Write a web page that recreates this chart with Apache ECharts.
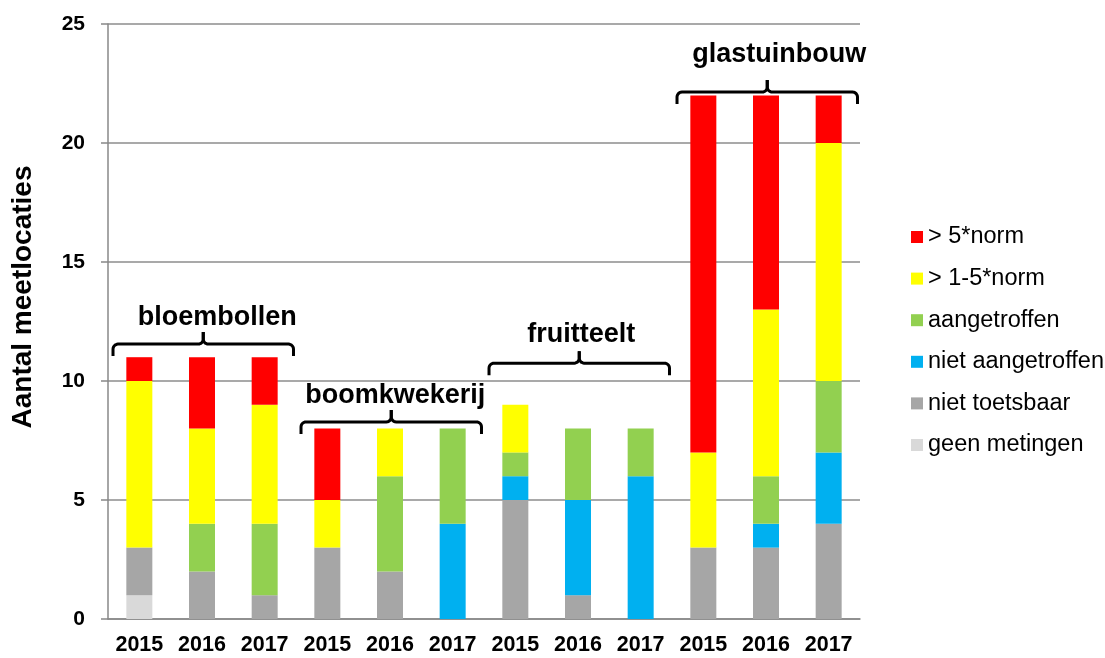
<!DOCTYPE html>
<html>
<head>
<meta charset="utf-8">
<script src="https://cdn.jsdelivr.net/npm/echarts@6/dist/echarts.min.js"></script>
<style>
  html, body {margin: 0; padding: 0; background: #fff;}
  #main {width: 1105px; height: 658px;}
</style>
</head>
<body>
<div id="main"></div>
<script>
  const years = ['2015', '2016', '2017', '2015', '2016', '2017', '2015', '2016', '2017', '2015', '2016', '2017'];
  const groups = ['bloembollen', 'boomkwekerij', 'fruitteelt', 'glastuinbouw'];
  const yTitle = 'Aantal meetlocaties';

  // stacked from bottom to top
  const geenMetingen     = [1, 0, 0, 0, 0, 0, 0, 0, 0, 0, 0, 0];
  const nietToetsbaar    = [2, 2, 1, 3, 2, 0, 5, 1, 0, 3, 3, 4];
  const nietAangetroffen = [0, 0, 0, 0, 0, 4, 1, 4, 6, 0, 1, 3];
  const aangetroffen     = [0, 2, 3, 0, 4, 4, 1, 3, 2, 0, 2, 3];
  const norm1tot5        = [7, 4, 5, 2, 2, 0, 2, 0, 0, 4, 7, 10];
  const normBoven5       = [1, 3, 2, 3, 0, 0, 0, 0, 0, 15, 9, 2];

  const seriesDefs = [
    {name: 'geen metingen', data: geenMetingen, color: '#D9D9D9'},
    {name: 'niet toetsbaar', data: nietToetsbaar, color: '#A6A6A6'},
    {name: 'niet aangetroffen', data: nietAangetroffen, color: '#00B0F0'},
    {name: 'aangetroffen', data: aangetroffen, color: '#92D050'},
    {name: '> 1-5*norm', data: norm1tot5, color: '#FFFF00'},
    {name: '> 5*norm', data: normBoven5, color: '#FF0000'},
  ];

  // bracket annotation placement (y value of bracket, y value of label, label x shift in px)
  const bracketLevels = [11.55, 8.28, 10.75, 22.14];
  const labelLevels = [12.65, 9.37, 11.97, 23.7];
  const labelShift = [14, 4, 2, 12];

  const chart = echarts.init(document.getElementById('main'));
  const font = 'Arial, "Liberation Sans", sans-serif';

  chart.setOption({
    animation: false,
    textStyle: {fontFamily: font},
    grid: {left: 108, right: 245, top: 24, bottom: 39},
    legend: {
      orient: 'vertical',
      left: 906,
      top: 220,
      itemWidth: 12,
      itemHeight: 12,
      itemGap: 17.6,
      icon: 'rect',
      data: seriesDefs.map(s => s.name).reverse(),
      textStyle: {fontSize: 23.5, color: '#000', fontFamily: font, lineHeight: 24, padding: [0, 0, 0, 0]},
    },
    xAxis: {
      type: 'category',
      data: years,
      axisLine: {lineStyle: {color: '#888', width: 1.5}},
      axisTick: {length: 7, lineStyle: {color: '#888', width: 1.5}},
      axisLabel: {fontSize: 21.5, fontWeight: 'bold', color: '#000', margin: 15, interval: 0},
    },
    yAxis: {
      type: 'value',
      min: 0,
      max: 25,
      interval: 5,
      axisLine: {show: true, lineStyle: {color: '#888', width: 1.5}},
      axisTick: {show: true, length: 7, lineStyle: {color: '#888', width: 1.5}},
      axisLabel: {fontSize: 21, fontWeight: 'bold', color: '#000', margin: 23},
      splitLine: {lineStyle: {color: '#8c8c8c', width: 1.5}},
    },
    series: seriesDefs.map(s => ({
      name: s.name,
      type: 'bar',
      stack: 'total',
      barWidth: 26,
      itemStyle: {color: s.color},
      data: s.data,
    })),
  });

  // quarter-circle points for rounded bracket corners
  function arc(cx, cy, r, a0, a1) {
    const pts = [];
    for (let k = 0; k <= 6; k++) {
      const a = a0 + (a1 - a0) * k / 6;
      pts.push([cx + r * Math.cos(a), cy + r * Math.sin(a)]);
    }
    return pts;
  }

  function drawBrackets() {
    const band = chart.convertToPixel({xAxisIndex: 0}, 1) - chart.convertToPixel({xAxisIndex: 0}, 0);
    const els = [];
    const r = 5, h = 12, P = Math.PI;
    groups.forEach((g, i) => {
      const x0 = chart.convertToPixel({xAxisIndex: 0}, i * 3) - band * 0.42;
      const x1 = chart.convertToPixel({xAxisIndex: 0}, i * 3 + 2) + band * 0.46;
      const xm = (x0 + x1) / 2;
      const y = chart.convertToPixel({yAxisIndex: 0}, bracketLevels[i]);
      const yl = chart.convertToPixel({yAxisIndex: 0}, labelLevels[i]);
      const left = [[x0, y + h]].concat(arc(x0 + r, y + r, r, P, 1.5 * P))
        .concat(arc(xm - r, y - r, r, 0.5 * P, 0)).concat([[xm, y - h]]);
      const right = [[xm, y - h]].concat(arc(xm + r, y - r, r, P, 0.5 * P))
        .concat(arc(x1 - r, y + r, r, 1.5 * P, 2 * P)).concat([[x1, y + h]]);
      [left, right].forEach(pts => els.push({
        type: 'polyline',
        shape: {points: pts},
        style: {fill: null, stroke: '#000', lineWidth: 3, lineJoin: 'round'},
        z: 100,
      }));
      els.push({
        type: 'text',
        x: xm + labelShift[i],
        y: yl,
        style: {
          text: g,
          font: 'bold 27px ' + font,
          fill: '#000',
          align: 'center',
          verticalAlign: 'middle',
        },
        z: 100,
      });
    });
    // y axis title
    els.push({
      type: 'text',
      x: 23,
      y: 297,
      rotation: Math.PI / 2,
      style: {
        text: yTitle,
        font: 'bold 28px ' + font,
        fill: '#000',
        align: 'center',
        verticalAlign: 'middle',
      },
    });
    chart.setOption({graphic: els});
  }
  drawBrackets();
</script>
</body>
</html>
